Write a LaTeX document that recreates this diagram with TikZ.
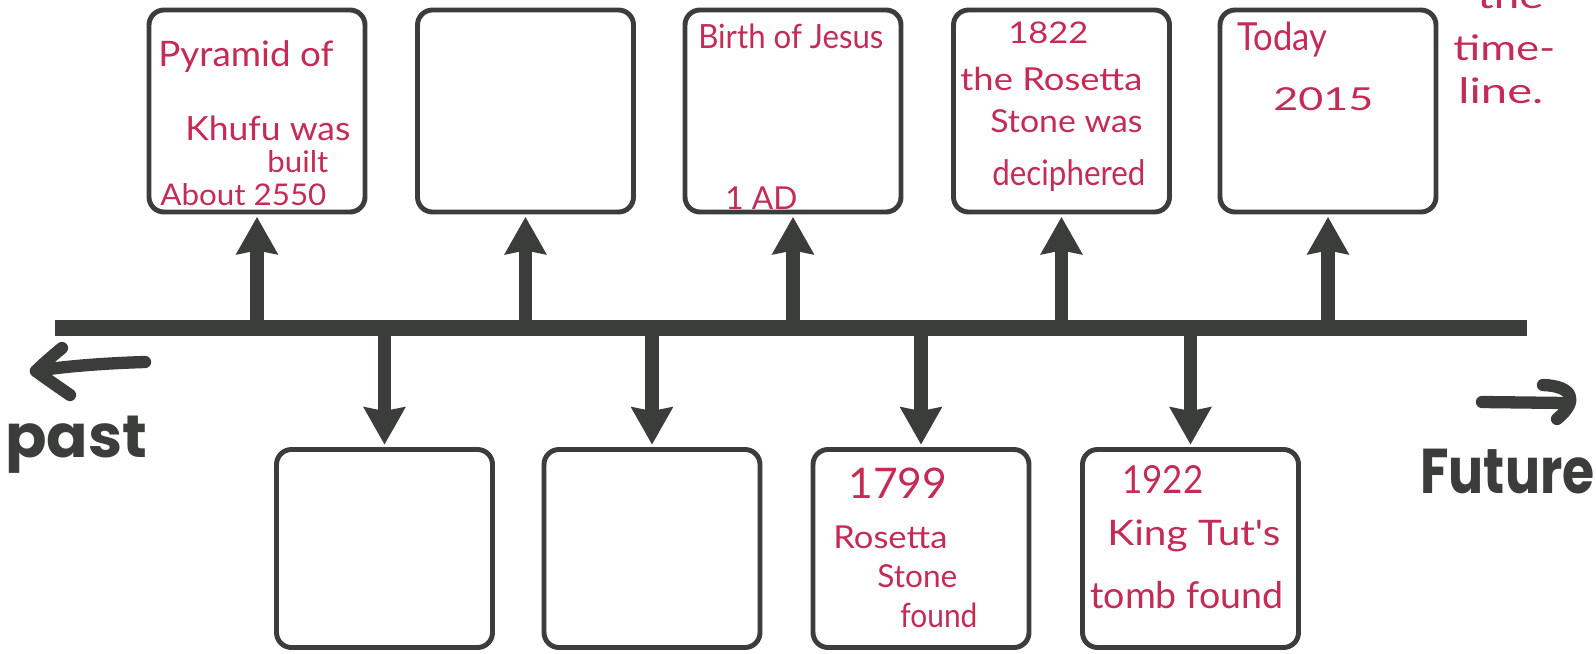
\documentclass[tikz,border=0pt]{standalone}
\usepackage{fontspec}
\usepackage{graphicx}
\usetikzlibrary{arrows.meta}
\newfontfamily\hand{Lato}
\newfontfamily\marker{Poppins}
\newlength\pxu \setlength\pxu{0.2mm}
\newcommand\fitw[2]{\resizebox{#1\pxu}{\height}{#2}}
\definecolor{ink}{RGB}{196,44,86}
\definecolor{pen}{RGB}{58,61,58}
\begin{document}
\begin{tikzpicture}[x=0.2mm,y=-0.2mm,
  evbox/.style={draw=pen, fill=white, line width=2.8pt, rounded corners=3mm,
    minimum width=43.2mm, inner sep=0pt},
  topbox/.style={evbox, minimum height=40.4mm},
  botbox/.style={evbox, minimum height=39.6mm},
  tline/.style={draw=pen, line width=9pt},
  evarrow/.style={draw=pen, line width=7.9pt,
    -{Stealth[length=21.5pt,width=24.4pt,inset=2.5pt,line width=0pt]}, shorten >=1.5pt},
  hw/.style={text=ink, font=\hand\fontsize{#1}{#1}\selectfont, anchor=base west, inner sep=0pt},
  mk/.style={text=pen, font=\marker\bfseries\fontsize{#1}{#1}\selectfont, anchor=base west, inner sep=0pt},
  pastfut/.style={draw=pen, line width=7pt, line cap=round, line join=round}
]
\clip (0,0) rectangle (1596,653);
\fill[white] (0,0) rectangle (1596,653);

% timeline
\coordinate (tlL) at (55,328);
\coordinate (tlR) at (1527,328);
\draw[tline] (tlL) -- (tlR);

% top boxes
\node[topbox] (t1) at (257,111) {};
\node[topbox] (t2) at (525.5,111) {};
\node[topbox] (t3) at (793,111) {};
\node[topbox] (t4) at (1061.5,111) {};
\node[topbox] (t5) at (1328,111) {};
% bottom boxes
\node[botbox] (b1) at (384.5,548.5) {};
\node[botbox] (b2) at (652,548.5) {};
\node[botbox] (b3) at (921,548.5) {};
\node[botbox] (b4) at (1190.5,548.5) {};

% arrows
\foreach \n in {t1,t2,t3,t4,t5}{
  \draw[evarrow] (\n.south |- tlL) -- (\n.south);
}
\foreach \n in {b1,b2,b3,b4}{
  \draw[evarrow] (\n.north |- tlL) -- (\n.north);
}

% handwritten texts
\node[hw=20] (p1) at (158,66) {\fitw{175}{Pyramid of}};
\node[hw=19] (p2) at (185,140) {\fitw{165}{Khufu was}};
\node[hw=17] (p3) at (267,172) {\fitw{61}{built}};
\node[hw=17] (p4) at (160,205) {\fitw{166}{About 2550}};

\node[hw=19] (j1) at (698,48) {\fitw{185}{Birth of Jesus}};
\node[hw=18] (j2) at (725,209) {\fitw{72}{1 AD}};

\node[hw=17] (r1) at (1008,43) {\fitw{80}{1822}};
\node[hw=18] (r2) at (960,90) {\fitw{182}{the Rosetta}};
\node[hw=18] (r3) at (990,132) {\fitw{152}{Stone was}};
\node[hw=20] (r4) at (992,185) {\fitw{153}{deciphered}};

\node[hw=22] (d1) at (1237,50) {\fitw{90}{Today}};
\node[hw=18] (d2) at (1273,110) {\fitw{100}{2015}};

\node[hw=20] (m1) at (1477,8) {\fitw{66}{the}};
\node[hw=20] (m2) at (1453,60) {\fitw{102}{time-}};
\node[hw=20] (m3) at (1458,103) {\fitw{85}{line.}};

\node[hw=24] (s1) at (848,498) {\fitw{99}{1799}};
\node[hw=18] (s2) at (833,548) {\fitw{114}{Rosetta}};
\node[hw=18] (s3) at (877,587) {\fitw{80}{Stone}};
\node[hw=19] (s4) at (900,627) {\fitw{77}{found}};

\node[hw=22] (k1) at (1122,493) {\fitw{81}{1922}};
\node[hw=20] (k2) at (1107,545) {\fitw{173}{King Tut's}};
\node[hw=21] (k3) at (1090,608) {\fitw{193}{tomb found}};

% past / future
\node[mk=34] (past) at (5,457) {\fitw{142}{past}};
\node[mk=36] (future) at (1420,493) {\fitw{174}{Future}};
\draw[pastfut] (145,362) .. controls (110,363) and (65,366) .. (36,371);
\draw[pastfut] (62,348) .. controls (50,358) and (42,365) .. (36,371)
   .. controls (48,380) and (60,388) .. (70,395);
\draw[pastfut] (1482,402) -- (1566,403);
\draw[pastfut] (1543,385) .. controls (1572,386) and (1580,400) .. (1557,419);
\end{tikzpicture}
\end{document}
